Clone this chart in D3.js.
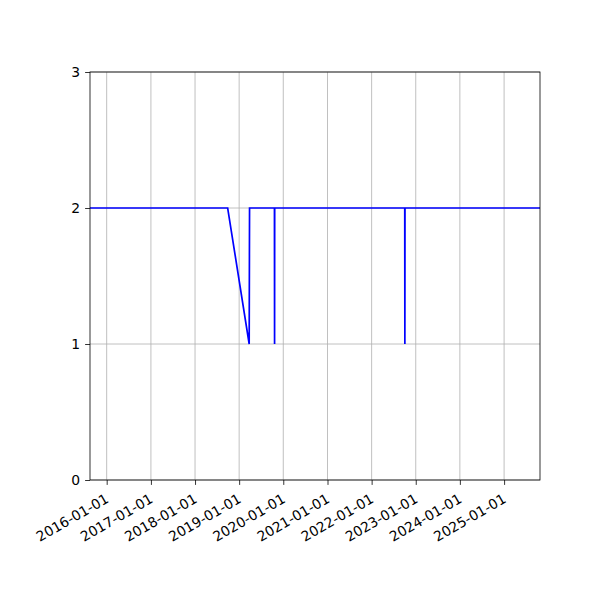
<!DOCTYPE html>
<html>
<head>
<meta charset="utf-8">
<script src="https://cdn.jsdelivr.net/npm/d3@7"></script>
<style>
  body { margin: 0; background: #fff; }
  svg { display: block; }
</style>
</head>
<body>
<div id="chart"></div>
<script>
// series
const dates = [
  "2015-08-16", "2018-09-28", "2019-03-25", "2019-03-28",
  "2019-10-20", "2019-10-21", "2019-10-22",
  "2022-10-02", "2022-10-03", "2022-10-04", "2025-10-25"
];
const values = [2, 2, 1, 2, 2, 1, 2, 2, 1, 2, 2];

const xTickLabels = [
  "2016-01-01", "2017-01-01", "2018-01-01", "2019-01-01", "2020-01-01",
  "2021-01-01", "2022-01-01", "2023-01-01", "2024-01-01", "2025-01-01"
];
const yTicks = [0, 1, 2, 3];

const W = 600, H = 600;
const margin = { top: 72, right: 60, bottom: 120, left: 90 };
const width = W - margin.left - margin.right;
const height = H - margin.top - margin.bottom;
const font = "'DejaVu Sans', sans-serif";

const parse = d3.utcParse("%Y-%m-%d");
const data = dates.map((d, i) => ({ date: parse(d), value: values[i] }));

const svg = d3.select("#chart")
  .append("svg")
  .attr("width", W)
  .attr("height", H);

const g = svg.append("g")
  .attr("transform", `translate(${margin.left},${margin.top})`);

const x = d3.scaleUtc()
  .domain(d3.extent(data, d => d.date))
  .range([0, width]);

const y = d3.scaleLinear()
  .domain([0, 3])
  .range([height, 0]);

const xTickDates = xTickLabels.map(parse);

// grid
g.append("g")
  .selectAll("line")
  .data(xTickDates)
  .join("line")
  .attr("x1", d => x(d)).attr("x2", d => x(d))
  .attr("y1", 0).attr("y2", height)
  .attr("stroke", "#b0b0b0")
  .attr("stroke-width", 0.8);

g.append("g")
  .selectAll("line")
  .data(yTicks)
  .join("line")
  .attr("x1", 0).attr("x2", width)
  .attr("y1", d => y(d)).attr("y2", d => y(d))
  .attr("stroke", "#b0b0b0")
  .attr("stroke-width", 0.8);

// line
g.append("path")
  .datum(data)
  .attr("fill", "none")
  .attr("stroke", "#0000ff")
  .attr("stroke-width", 1.7)
  .attr("d", d3.line().x(d => x(d.date)).y(d => y(d.value)));

// frame
g.append("rect")
  .attr("width", width)
  .attr("height", height)
  .attr("fill", "none")
  .attr("stroke", "#000")
  .attr("stroke-width", 0.8);

// x axis
const xAxis = g.append("g")
  .attr("transform", `translate(0,${height})`)
  .call(d3.axisBottom(x)
    .tickValues(xTickDates)
    .tickFormat(d3.utcFormat("%Y-%m-%d"))
    .tickSize(4.9)
    .tickPadding(0));

xAxis.attr("font-family", null).attr("font-size", null);
xAxis.select(".domain").remove();
xAxis.selectAll(".tick line").attr("stroke", "#000").attr("stroke-width", 0.8);
xAxis.selectAll(".tick text")
  .attr("y", 0)
  .attr("dy", "0.8em")
  .attr("text-anchor", "end")
  .attr("transform", "translate(-3,12) rotate(-30)")
  .style("font-family", font)
  .style("font-size", "13.9px")
  .style("fill", "#000");

// y axis
const yAxis = g.append("g")
  .call(d3.axisLeft(y)
    .tickValues(yTicks)
    .tickFormat(d3.format("d"))
    .tickSize(4.9)
    .tickPadding(4.9));

yAxis.attr("font-family", null).attr("font-size", null);
yAxis.select(".domain").remove();
yAxis.selectAll(".tick line").attr("stroke", "#000").attr("stroke-width", 0.8);
yAxis.selectAll(".tick text")
  .style("font-family", font)
  .style("font-size", "13.9px")
  .style("fill", "#000");
</script>
</body>
</html>
